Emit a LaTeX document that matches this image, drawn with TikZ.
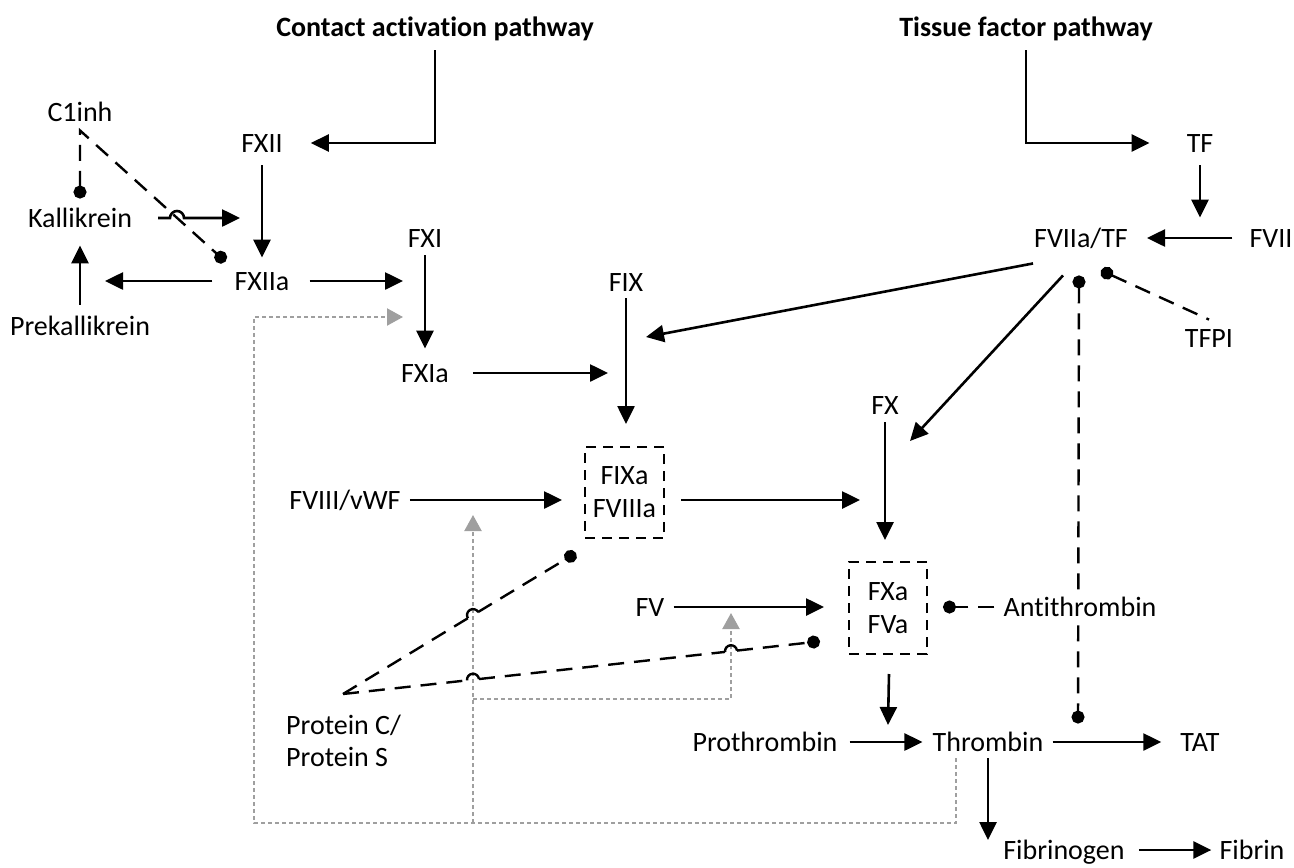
\documentclass[tikz,border=0pt]{standalone}
\usepackage{fontspec}
\setmainfont{Carlito}[Ligatures=NoCommon]
\usetikzlibrary{arrows.meta,calc,backgrounds}
\begin{document}
\begin{tikzpicture}[x=1pt,y=-1pt,
  every node/.style={font=\fontsize{28}{33}\selectfont, inner sep=0pt},
  lbl/.style={text height=18.5pt, text depth=0pt},
  ttl/.style={lbl, font=\fontsize{28}{33}\selectfont\bfseries},
  arr/.style={line width=2.6pt, -{Triangle[length=18pt,width=17pt]}},
  dsh/.style={line width=2.4pt, dash pattern=on 16pt off 10pt},
  bul/.style={dsh, -{Circle[length=13pt]}},
  bulb/.style={dsh, {Circle[length=13pt]}-{Circle[length=13pt]}},
  hop/.style={line width=2.4pt},
  gry/.style={line width=2.2pt, draw=gray!75, dash pattern=on 4pt off 3pt},
  garr/.style={gry, -{Triangle[length=16pt,width=17pt,fill=gray!75]}},
  cbox/.style={draw, line width=2pt, dash pattern=on 10pt off 7pt, align=center, minimum width=79pt, minimum height=91pt}
]
\useasboundingbox (0,0) rectangle (1294,868);

% ---------- nodes ----------
\node[ttl] (cap) at (435,27) {Contact activation pathway};
\node[ttl] (tfp) at (1026,27) {Tissue factor pathway};
\node[lbl] (fxii) at (262,143) {FXII};
\node[lbl] (tf) at (1200,143) {TF};
\node[lbl] (c1inh) at (80,112) {C1inh};
\node[lbl] (kal) at (80,218) {Kallikrein};
\node[lbl] (prekal) at (80,326) {Prekallikrein};
\node[lbl] (fxiia) at (262,281) {FXIIa};
\node[lbl] (fxi) at (425,238) {FXI};
\node[lbl] (fxia) at (425,373) {FXIa};
\node[lbl] (fix) at (626,282) {FIX};
\node[cbox] (fixa) at (624.5,492.5) {FIXa\\FVIIIa};
\node[lbl] (fviii) at (345,500) {FVIII/vWF};
\node[lbl] (fx) at (885,405) {FX};
\node[cbox, minimum width=78pt, minimum height=92pt] (fxa) at (888,608) {FXa\\FVa};
\node[lbl] (fv) at (650,607) {FV};
\node[lbl, fill=white, inner xsep=4pt, inner ysep=6pt] (anti) at (1080,607) {Antithrombin};
\node[lbl] (fviia) at (1081,238) {FVIIa/TF};
\node[lbl] (fvii) at (1271,238) {FVII};
\node[lbl] (tfpi) at (1209,338) {TFPI};
\node[lbl] (proth) at (765,742) {Prothrombin};
\node[lbl] (thr) at (988,742) {Thrombin};
\node[lbl] (tat) at (1200,742) {TAT};
\node[lbl] (fbg) at (1064,850) {Fibrinogen};
\node[lbl] (fbn) at (1252,850) {Fibrin};
\node[align=left, anchor=west, font=\fontsize{28}{32}\selectfont] (pcs) at (286,741) {Protein C/\\Protein S};

% ---------- free ends ----------
\coordinate (pk) at (105,281);
\coordinate (kt) at (240,218);
\coordinate (fxit) at (403,281);
\coordinate (fixt) at (608,373);
\coordinate (ixt) at (646,337);
\coordinate (xt) at (910,441);
\coordinate (xat) at (860,500);
\coordinate (tht) at (888,725);
\coordinate (fbt) at (988,840);
\coordinate (c1c) at ($(c1inh.south)+(0,9)$);
\coordinate (kb) at ($(kal.north)+(0,-10)$);
\coordinate (xb) at ($(fxiia.north west)+(-9,-10)$);
\coordinate (pa) at (343,694);

% ---------- gray feedback lines ----------
\coordinate (g1) at ($(thr.south)+(-32,7)$);
\coordinate (gbl) at (254,823);
\coordinate (gxi) at (403,317);
\coordinate (gj1) at (473,823);
\coordinate (gviii) at (473,515);
\coordinate (gj2) at (473,699);
\coordinate (gv) at (731,613);
\draw[garr] (g1) |- (gbl) |- (gxi);
\draw[garr] (gj1) -- (gviii);
\draw[garr] (gj2) -| (gv);

% ---------- pathway arrows ----------
\draw[arr] ($(cap.south)+(0,14)$) |- ($(fxii.east)+(28,0)$);
\draw[arr] ($(tfp.south)+(0,14)$) |- ($(tf.west)+(-37,0)$);
\draw[arr] ($(tf.south)+(0,13)$) -- ($(tf.south|-fviia.north)+(0,-11)$);
\draw[arr, shorten <=17pt, shorten >=19pt] (fvii) -- (fviia);
\draw[arr, shorten <=13pt, shorten >=14pt] (fxii) -- (fxiia);
\draw[arr] ($(fxiia.west)+(-22,0)$) -- (pk);
\draw[arr, shorten <=12pt, shorten >=18pt] (prekal) -- (kal);
\draw[arr] ($(kal.east)+(26,0)$) -- (170,218) arc[start angle=180,end angle=0,radius=7pt] -- (kt);
\draw[bulb] (kb) -- (c1c) -- (xb);
\draw[arr] ($(fxiia.east)+(20,0)$) -- (fxit);
\draw[arr, shorten <=8pt, shorten >=15pt] (fxi) -- (fxia);
\draw[arr] ($(fxia.east)+(24,0)$) -- (fixt);
\draw[arr, shorten <=7pt, shorten >=22pt] (fix) -- (fix |- fixa.north);
\draw[arr] ($(fviia.south)+(-48,16)$) -- (ixt);
\draw[arr] ($(fviia.south)+(-18,28)$) -- (xt);
\begin{pgfonlayer}{background}
\draw[bulb] ($(fviia.south)+(-2,28)$) -- ($(thr.north)+(90,-9)$);
\end{pgfonlayer}
\draw[dsh, {Circle[length=13pt]}-] ($(fviia.south)+(20,23)$) -- ($(tfpi.north)+(0,-9)$);
\draw[arr, shorten <=9pt, shorten >=22pt] (fviii.east) -- (fviii.east -| fixa.west);
\draw[arr] ($(fixa.east)+(16,7.5)$) -- (xat);
\draw[arr, shorten <=8pt, shorten >=21pt] (fx) -- (fx |- fxa.north);
\draw[arr, shorten <=9pt, shorten >=24pt] (fv) -- (fv -| fxa.west);
\draw[bul, shorten <=5pt, shorten >=15pt] (anti) -- (anti -| fxa.east);
\draw[arr] ($(fxa.south)+(1,19)$) -- (tht);
\draw[arr, shorten <=12pt, shorten >=10pt] (proth) -- (thr);
\draw[arr, shorten <=9pt, shorten >=19pt] (thr) -- (tat);
\draw[arr] ($(thr.south)+(0,7)$) -- (fbt);
\draw[arr, shorten <=14pt, shorten >=8pt] (fbg) -- (fbn);

% ---------- protein C / S inhibition with hops ----------
\draw[dsh] (pa) -- (467.9,618.2);
\draw[hop] (467.9,618.2) arc[start angle=211.26, end angle=31.26, radius=6pt];
\draw[bul] (478.1,612.0) -- ($(fixa.south west)+(-8,14)$);

\draw[dsh] (pa) -- (467.04,680.36);
\draw[hop] (467.04,680.36) arc[start angle=186.29, end angle=6.29, radius=6pt];
\draw[dsh] (478.96,679.04) -- (725.04,651.91);
\draw[hop] (725.04,651.91) arc[start angle=186.29, end angle=6.29, radius=6pt];
\draw[bul] (736.96,650.59) -- ($(fxa.west)+(-28,33.3)$);
\end{tikzpicture}
\end{document}
